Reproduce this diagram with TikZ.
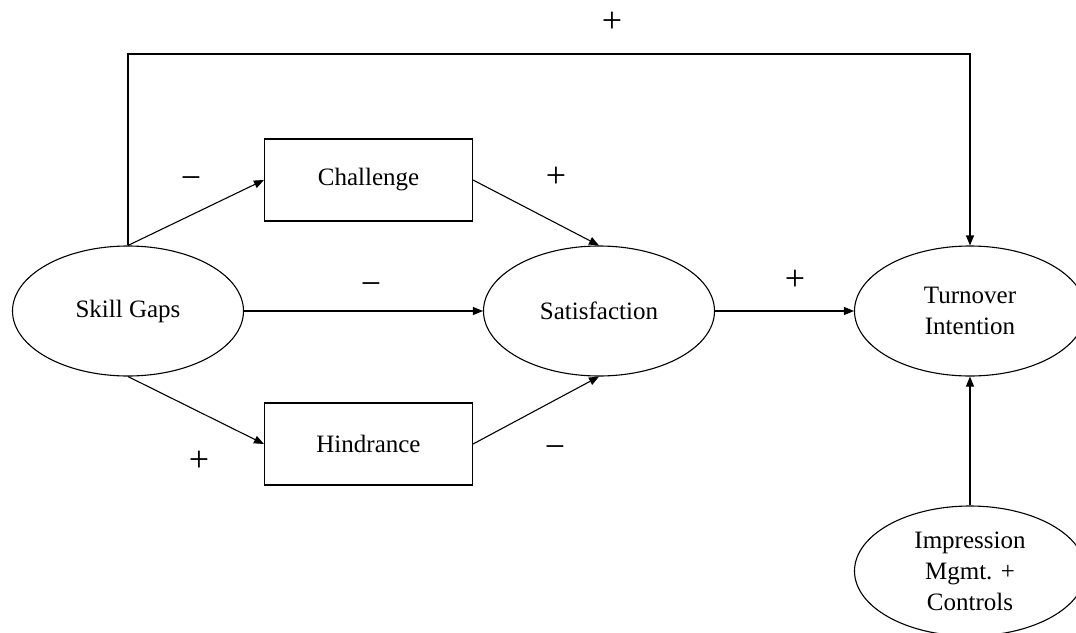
\documentclass[tikz,border=0pt]{standalone}
\usepackage{fontspec}
\setmainfont{Liberation Serif}
\usetikzlibrary{arrows.meta,shapes.geometric}
\begin{document}
\begin{tikzpicture}[x=1pt,y=-1pt,
  every node/.style={font=\fontsize{25}{31}\selectfont},
  latent/.style={draw,ellipse,line width=1.1pt,minimum width=231pt,minimum height=130pt,inner sep=0pt,align=center},
  obs/.style={draw,rectangle,line width=1.1pt,minimum width=208pt,minimum height=82pt,inner sep=0pt},
  arr/.style={line width=1.1pt,-{Triangle[length=10pt,width=8pt]}},
  sign/.style={inner sep=0pt,anchor=base,font=\fontsize{36}{40}\selectfont}]
\useasboundingbox (0,0) rectangle (1076,632);
\node[latent] (skill) at (128,311) {Skill Gaps};
\node[latent] (sat) at (599,311) {Satisfaction};
\node[latent] (turn) at (970,311) {Turnover\\Intention};
\node[latent] (imp) at (970,571) {Impression\\Mgmt. +\\Controls};
\node[obs] (chal) at (368.5,180) {Challenge};
\node[obs] (hind) at (368.5,444) {Hindrance};
\coordinate (tl) at (128,54);
\coordinate (tr) at (970,54);
\draw[arr] (skill.north) -- (tl) -- (tr) -- (turn.north);
\draw[arr] (skill.north) -- (chal.west);
\draw[arr] (skill.south) -- (hind.west);
\draw[arr] (skill.east) -- (sat.west);
\draw[arr] (chal.east) -- (sat.north);
\draw[arr] (hind.east) -- (sat.south);
\draw[arr] (sat.east) -- (turn.west);
\draw[arr] (imp.north) -- (turn.south);
\node[sign] (s1) at (612,32) {+};
\node[sign] (s2) at (191,189) {−};
\node[sign] (s3) at (556,187) {+};
\node[sign] (s4) at (371,295) {−};
\node[sign] (s5) at (795,290) {+};
\node[sign] (s6) at (199,471) {+};
\node[sign] (s7) at (555,458) {−};
\end{tikzpicture}
\end{document}
